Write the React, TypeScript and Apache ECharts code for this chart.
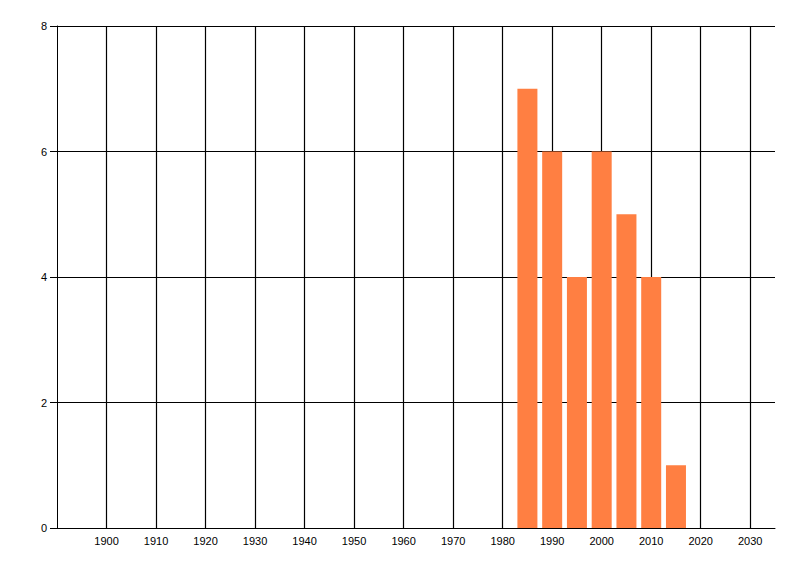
import React, { useEffect, useRef } from "react";
import * as echarts from "echarts";

const years = [1985, 1990, 1995, 2000, 2005, 2010, 2015];
const counts = [7, 6, 4, 6, 5, 4, 1];
const xGridYears = [1900, 1910, 1920, 1930, 1940, 1950, 1960, 1970, 1980, 1990, 2000, 2010, 2020, 2030];

export default function App() {
  const ref = useRef<HTMLDivElement>(null);
  useEffect(() => {
    document.body.style.margin = "0";
    const chart = echarts.init(ref.current!, undefined, { renderer: "svg" });
    const font = { fontFamily: "Liberation Sans", fontSize: 11, color: "#000" };
    chart.setOption({
      animation: false,
      backgroundColor: "#fff",
      grid: { left: 57, right: 25, top: 26, bottom: 48, containLabel: false },
      xAxis: {
        type: "value",
        min: 1890,
        max: 2035,
        interval: 10,
        axisLine: { show: true, onZero: false, lineStyle: { color: "#000", width: 1 } },
        axisTick: { show: false },
        splitLine: { show: false },
        axisLabel: {
          ...font,
          margin: 7,
          showMinLabel: false,
          showMaxLabel: false,
          formatter: (v: number) => (v % 10 === 0 && v > 1890 ? String(v) : ""),
        },
      },
      yAxis: {
        type: "value",
        min: 0,
        max: 8,
        interval: 2,
        axisLine: { show: true, lineStyle: { color: "#000", width: 1 } },
        axisTick: { show: true, length: 7, lineStyle: { color: "#000", width: 1 } },
        splitLine: { show: true, lineStyle: { color: "#000", width: 1 } },
        axisLabel: { ...font, margin: 10 },
      },
      series: [
        {
          type: "bar",
          data: years.map((y, i) => [y, counts[i]]),
          barWidth: 20,
          itemStyle: { color: "#FF7F42" },
          z: 3,
          markLine: {
            silent: true,
            symbol: "none",
            label: { show: false },
            lineStyle: { color: "#000", width: 1.2, type: "solid" },
            z: 1,
            data: xGridYears.map((y) => ({ xAxis: y })),
          },
        },
      ],
    });
    return () => chart.dispose();
  }, []);
  return <div ref={ref} style={{ width: 800, height: 576 }} />;
}
